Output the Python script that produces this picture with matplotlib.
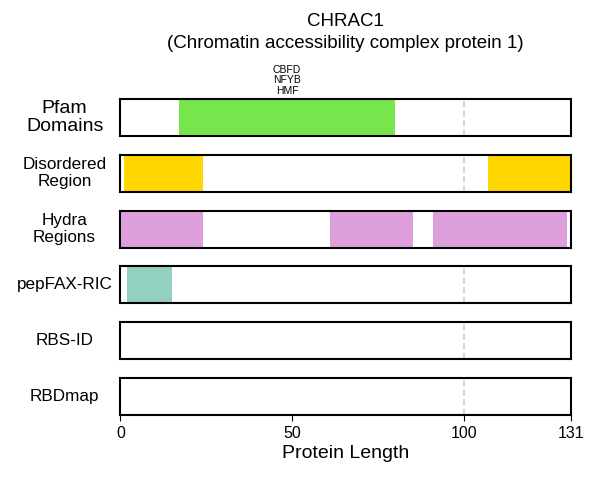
import matplotlib
matplotlib.use("Agg")
import matplotlib.pyplot as plt

plt.rcParams['font.family'] = ['Liberation Sans', 'DejaVu Sans']

protein_length = 131
title = "CHRAC1\n(Chromatin accessibility complex protein 1)"

track_names = ["Pfam\nDomains", "Disordered\nRegion", "Hydra\nRegions",
               "pepFAX-RIC", "RBS-ID", "RBDmap"]
track_colors = ["#77e64d", "#ffd700", "#dda0dd", "#92d1c2", "#92d1c2", "#92d1c2"]

# (start, end) per track
pfam_regions = [(17, 80)]
pfam_labels = ["CBFD\nNFYB\nHMF"]
disordered_regions = [(1, 24), (107, 131)]
hydra_regions = [(0, 24), (61, 85), (91, 130)]
pepfax_regions = [(2, 15)]
rbsid_regions = []
rbdmap_regions = []

tracks = [pfam_regions, disordered_regions, hydra_regions,
          pepfax_regions, rbsid_regions, rbdmap_regions]

xticks = [0, 50, 100, 131]
marker_pos = 100

fig, axes = plt.subplots(6, 1, figsize=(6, 4.8), dpi=100, sharex=True)
plt.subplots_adjust(left=0.2007, right=0.951, top=0.794, bottom=0.135, hspace=0.51)

for i, ax in enumerate(axes):
    for start, end in tracks[i]:
        ax.axvspan(start, end, ymin=0, ymax=1, color=track_colors[i], lw=0)
    ax.axvline(marker_pos, color="#d6d6d6", ls=(0, (3, 1.6)), lw=1.5, zorder=0.5)
    ax.set_xlim(0, protein_length)
    ax.set_ylim(0, 1)
    ax.set_yticks([])
    for s in ax.spines.values():
        s.set_linewidth(1.5)
    if i == 0:
        ax.set_ylabel(track_names[i], rotation=0, fontsize=14, ha="center", va="center",
                      linespacing=1.04)
    else:
        ax.set_ylabel(track_names[i], rotation=0, fontsize=12.3, ha="center", va="center",
                      linespacing=1.14)
    ax.yaxis.set_label_coords(-0.124, 0.5)
    if i < 5:
        ax.tick_params(axis="x", length=0, labelbottom=False)

for (start, end), lab in zip(pfam_regions, pfam_labels):
    axes[0].annotate(lab, ((start + end) / 2, 1.0), xycoords=axes[0].get_xaxis_transform(),
                     xytext=(0, 3.5), textcoords="offset points",
                     ha="center", va="baseline", fontsize=7.5, linespacing=1.08)

axes[-1].set_xticks(xticks)
axes[-1].tick_params(axis="x", labelsize=11.5, length=4)
axes[-1].set_xlabel("Protein Length", fontsize=14, labelpad=3)

fig.suptitle(title, fontsize=13.5, x=0.575, y=0.972, linespacing=1.33)

plt.savefig("out.png")
plt.close()
